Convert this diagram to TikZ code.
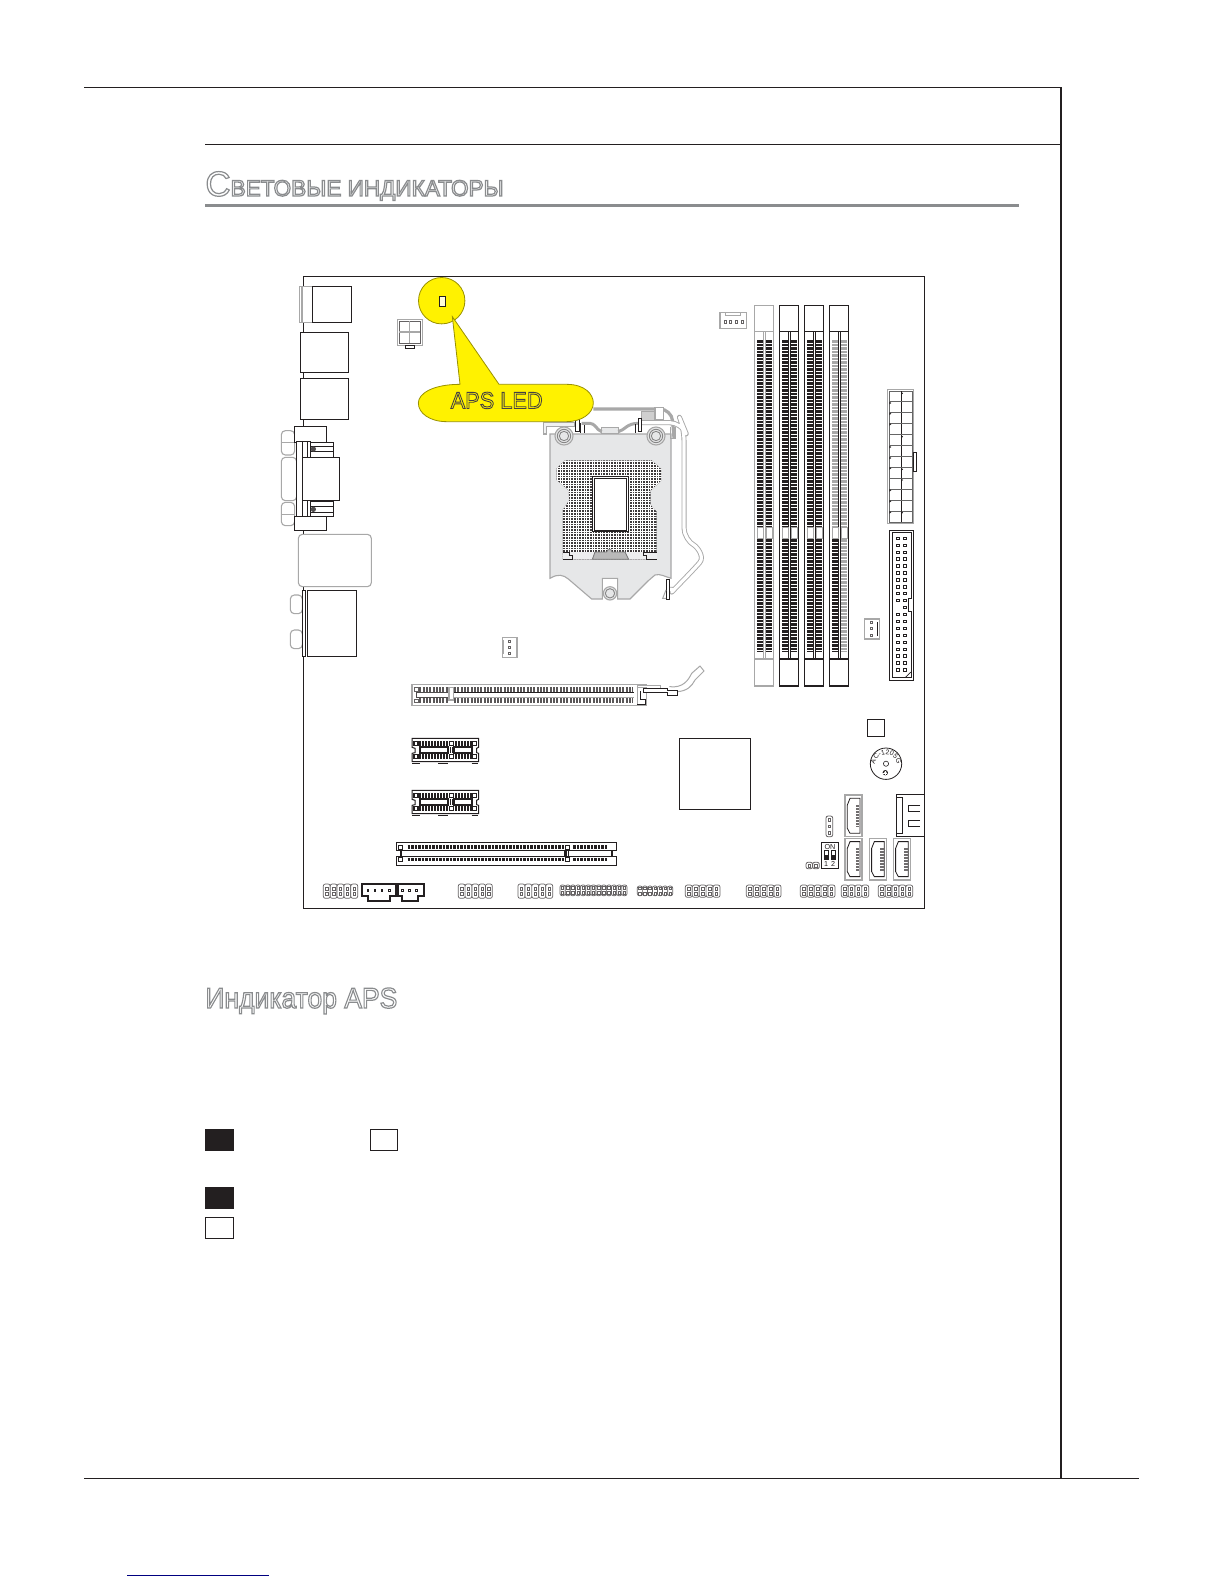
\documentclass[tikz,border=0pt]{standalone}
\usepackage{graphicx}
\usepackage{fontspec}
\setmainfont{Liberation Sans}
\usetikzlibrary{decorations.text}
\definecolor{ink}{HTML}{231F20}
\definecolor{midgray}{HTML}{8A8C8E}
\definecolor{softgray}{HTML}{A8A8A8}
\definecolor{bodygray}{HTML}{E6E7E8}
\definecolor{callout}{HTML}{FFF200}
\newcommand{\hollow}[2][0.6]{\special{pdf:literal direct 1 Tr #1 w}#2\special{pdf:literal direct 0 Tr}}
\tikzset{
  frameline/.style={draw=ink,line width=0.65pt},
  blk/.style={draw=ink,line width=0.5pt,fill=white},
  gry/.style={draw=softgray,line width=0.55pt,fill=white},
  pinrow/.style={draw=ink,line width=#1,dash pattern=on 1.25pt off 0.5pt},
  pinrow/.default=1.7pt,
  sq/.style={draw=ink,line width=0.35pt,fill=white}
}
% header block: x1,x2,y1,y2,columns
\newcommand{\pinhdr}[5]{%
  \pgfmathsetmacro\cw{(#2-#1)/#5}%
  \pgfmathsetmacro\ymid{(#3+#4)/2}%
  \foreach \ci in {1,...,#5}{%
    \pgfmathsetmacro\xa{#1+(\ci-1)*\cw}%
    \pgfmathsetmacro\xb{\xa+\cw}%
    \pgfmathsetmacro\xc{(\xa+\xb)/2}%
    \draw[draw=ink!70,line width=0.35pt,fill=white,rounded corners=1pt] (\xa,#3) rectangle (\xb,#4);
    \draw[draw=ink!70,line width=0.3pt] (\xc-1.2,\ymid-4) rectangle (\xc+1.2,\ymid-1.2);
    \draw[draw=ink!70,line width=0.3pt] (\xc-1.2,\ymid+1.2) rectangle (\xc+1.2,\ymid+4);
  }}
% SATA connector
\newcommand{\satacon}[2]{%
  \begin{scope}[shift={(#1,#2)},scale=1/3]
    \draw[gry] (0,0) rectangle (51,125);
    \draw[draw=ink,line width=0.4pt,fill=white] (15,10) -- (45,10) -- (45,115) -- (15,115) -- (7,100) -- (7,30) -- cycle;
    \draw[draw=ink!65,line width=1.7pt,dash pattern=on 0.9pt off 0.6pt] (38,30) -- (38,97);
  \end{scope}}
% memory slot: x, frame colour, left upper colour, right upper colour
\newcommand{\dimm}[4]{%
  \draw[draw=#2,line width=0.55pt,fill=white] (#1,331.7) rectangle (#1+19.4,659);
  \draw[pinrow=3.3pt,draw=#3] (#1+6.2,340) -- (#1+6.2,526.7);
  \draw[pinrow=3.3pt,draw=#4] (#1+14.8,340) -- (#1+14.8,526.7);
  \draw[pinrow=3.3pt] (#1+6.2,539) -- (#1+6.2,651.7);
  \draw[pinrow=3.3pt,draw=#4] (#1+14.8,539) -- (#1+14.8,651.7);
  \draw[draw=#2,line width=0.5pt,fill=white] (#1+9.1,331.7) rectangle (#1+11.4,659);
  \draw[gry] (#1+3,527.3) rectangle (#1+9,538.3);
  \draw[gry] (#1+12,527.3) rectangle (#1+18,538.3);
  \draw[draw=#2,line width=0.55pt,fill=white] (#1,305.3) rectangle (#1+19.4,331.7);
}
% PCIe x1 slot
\newcommand{\xoneslot}[1]{%
  \begin{scope}[shift={(280,#1)},scale=1/3]
    \draw[blk] (396,460) -- (596,460) -- (596,487) -- (590,490) -- (590,503) -- (596,505) -- (596,530) -- (396,530) -- (396,505) -- (405,503) -- (405,490) -- (396,487) -- cycle;
    \draw[ink,line width=0.4pt] (396,535) -- (420,535) (475,535) -- (505,535) (575,535) -- (595,535);
    \draw[ink,line width=0.9pt] (420,487) rectangle (503,503) (523,487) rectangle (577,503);
    \draw[sq,line width=0.6pt] (402,470) rectangle (414,482) (508,470) rectangle (520,482) (576,470) rectangle (590,482);
    \draw[sq,line width=0.6pt] (402,509) rectangle (414,521) (508,509) rectangle (520,521) (576,509) rectangle (590,521);
    \draw[pinrow=2.2pt,dash pattern=on 1.1pt off 0.4pt] (417,476) -- (505,476) (524,476) -- (574,476) (417,515) -- (505,515) (524,515) -- (574,515);
    \draw[ink,line width=0.4pt] (510,487) -- (510,505) (518,487) -- (518,505);
  \end{scope}}
\begin{document}
\begin{tikzpicture}[x=0.5pt,y=-0.5pt]
\useasboundingbox (0,0) rectangle (1224,1584);
\fill[white] (0,0) rectangle (1224,1584);
% page frame
\coordinate (tl) at (84,87.3); \coordinate (tr) at (1061,87.3);
\coordinate (sl) at (205,144.3); \coordinate (sr) at (1061,144.3);
\coordinate (bl) at (84,1478.3); \coordinate (bm) at (1061,1478.3); \coordinate (br) at (1139,1478.3);
\draw[frameline] (tl) -- (tr) -- (bm);
\draw[frameline] (sl) -- (sr);
\draw[frameline] (bl) -- (br);
\coordinate (ua) at (127,1575.3); \coordinate (ub) at (269,1575.3);
\draw[draw=blue!50!black,line width=0.6pt] (ua) -- (ub);
% heading
\node[anchor=base west,inner sep=0pt] (h1) at (205,196)
  {\color{midgray}\hollow{\fontsize{17.5}{20}\selectfont С\fontsize{11.3}{20}\selectfont ВЕТОВЫЕ ИНДИКАТОРЫ}};
\coordinate (ra) at (205,205); \coordinate (rb) at (1019,205);
\draw[draw=midgray,line width=1.5pt] (ra) -- (rb);
\node[anchor=base west,inner sep=0pt] (h2) at (205,1008)
  {\color{midgray}\scalebox{0.92}[1]{\hollow{\fontsize{14.4}{18}\selectfont Индикатор APS}}};
% legend
\draw[fill=ink,draw=ink,line width=0.4pt] (205,1129) rectangle (233,1150);
\draw[blk] (370,1129) rectangle (397.7,1150);
\draw[fill=ink,draw=ink,line width=0.4pt] (205,1187) rectangle (233,1208);
\draw[blk] (205,1217) rectangle (233,1238);
% board
\draw[blk] (303.3,276.3) rectangle (924.5,908.5);
% rear panel
\draw[gry] (299.3,286.3) rectangle (312.3,322.3);
\draw[gry] (302,286.8) -- (302,321.8);
\draw[blk] (312.3,286.3) rectangle (351.3,322.3);
\draw[blk] (300.3,332.3) rectangle (348.7,372.3);
\draw[blk] (300.3,378.3) rectangle (348.7,419.3);
\begin{scope}[shift={(280,265)},scale=1/3]
  \draw[gry,rounded corners=2pt] (4,497) rectangle (44,570);
  \draw[gry,rounded corners=2pt] (4,577) rectangle (50,707);
  \draw[gry,rounded corners=2pt] (4,712) rectangle (44,782);
  \draw[gry] (4,533) -- (44,533) (4,748) -- (44,748);
  \draw[blk] (43,484) rectangle (140,532);
  \draw[blk] (43,755) rectangle (140,797);
  \draw[blk] (49,530) rectangle (67,755);
  \draw[blk] (67,530) rectangle (90,755);
  \draw[blk] (90,532) rectangle (160,577);
  \draw[blk] (90,708) rectangle (160,755);
  \draw[ink,line width=0.4pt] (90,545) -- (160,545) (90,560) -- (160,560) (90,725) -- (160,725) (90,742) -- (160,742);
  \fill[ink!80] (100,552) circle[radius=4pt] (100,733) circle[radius=4pt];
  \draw[blk] (67,577) rectangle (178,707);
  \draw[ink,line width=0.8pt] (82,530) -- (82,577) (82,708) -- (82,755);
  \draw[gry,rounded corners=2pt] (55,808) rectangle (274,965);
\end{scope}
\begin{scope}[shift={(280,585)},scale=1/3]
  \draw[gry,rounded corners=2pt] (31,30) rectangle (67,86);
  \draw[gry,rounded corners=2pt] (31,135) rectangle (67,191);
  \draw[blk] (67,15) rectangle (77,215);
  \draw[blk] (81,15) rectangle (230,215);
\end{scope}
% CPU power connector
\begin{scope}[shift={(280,265)},scale=1/3]
  \draw[gry,line width=0.8pt] (352,163) rectangle (427,241);
  \draw[ink!70,line width=0.3pt] (358,169) rectangle (421,235);
  \draw[softgray,line width=0.6pt] (389,169) -- (389,235) (358,201) -- (421,201);
  \draw[blk] (376,241) rectangle (402,250);
\end{scope}
% top fan
\begin{scope}[shift={(600,265)},scale=1/3]
  \draw[gry] (360,142) rectangle (440,191);
  \draw[softgray,line width=0.4pt] (375,142) -- (375,152) -- (422,152) -- (422,142);
  \foreach \px in {376,392,409,427} \draw[sq,draw=ink!70] (\px-3,166) rectangle (\px+3,176);
\end{scope}
% ATX power
\begin{scope}[shift={(600,265)},scale=1/3]
  \draw[gry,line width=0.8pt] (862,373) rectangle (941,776);
  \draw[softgray!60!black,line width=0.3pt] (868,378) rectangle (936,771);
  \draw[ink,line width=0.35pt] (903,378) -- (903,771);
  \foreach \ly in {408,441,474,507,540,573,606,639,672,705,738}
    \draw[softgray!60!black,line width=0.3pt] (868,\ly) -- (936,\ly);
  \foreach \ty in {380,510,608,640,738}
    \fill[ink] (903,\ty) -- (909,\ty+5) -- (903,\ty+10) -- cycle;
  \foreach \ty in {410,442,474,542,575,606,672,705,738}
    \fill[ink] (868,\ty) -- (874,\ty+4) -- (868,\ty+8) -- cycle;
  \draw[blk] (941,562) rectangle (950,620);
\end{scope}
% memory slots
\dimm{779.3}{ink}{ink}{ink}
\dimm{804.3}{ink}{ink}{ink}
\dimm{754.3}{softgray}{ink}{ink}
\dimm{829.3}{ink}{softgray}{softgray}
% IDE connector
\draw[blk,line width=0.7pt] (889.3,530.3) rectangle (913.7,680.7);
\draw[ink,line width=0.35pt] (892,532.7) -- (911,532.7) -- (911,598) -- (908.5,598) -- (908.5,611.7) -- (911,611.7) -- (911,677.7) -- (892,677.7) -- cycle;
\draw[ink,line width=0.35pt] (911,672) -- (905,677.7);
\foreach \r in {0,...,19}{
  \pgfmathsetmacro\ry{538.3+6.93*\r}
  \draw[sq,line width=0.45pt] (903.4,\ry-1.2) rectangle (906.6,\ry+1.2);
  \ifnum\r=10\relax\else\draw[sq,line width=0.45pt] (896.7,\ry-1.2) rectangle (899.9,\ry+1.2);\fi
}
% small fans
\begin{scope}[shift={(280,585)},scale=1/3]
  \draw[gry] (667,157) rectangle (711,217);
  \draw[softgray,line width=0.4pt] (671,165) -- (671,207);
  \foreach \py in {168,187,205} \draw[sq,draw=ink!70] (686,\py-3) rectangle (692,\py+3);
\end{scope}
\begin{scope}[shift={(620,585)},scale=1/3]
  \draw[gry] (733,102) rectangle (779,162);
  \draw[ink,line width=0.4pt] (772,112) -- (772,152);
  \foreach \py in {112,130,150} \draw[sq,draw=ink!70] (752,\py-3) rectangle (758,\py+3);
\end{scope}
% socket
\begin{scope}[shift={(540,400)},scale=1/3]
  \draw[softgray,line width=0.55pt,fill=bodygray!60] (10,68) -- (10,102) -- (20,102) -- (20,80) -- (105,80) -- (105,68) -- cycle;
  \draw[softgray,line width=1.6pt,rounded corners=6pt] (160,27) -- (395,27) -- (402,115);
  \draw[softgray,line width=0.55pt,fill=bodygray] (185,82) rectangle (235,102);
  \draw[softgray,line width=1.5pt] (125,70) -- (150,70) .. controls (165,70) and (170,90) .. (185,95);
  \draw[softgray,line width=1.5pt] (235,95) .. controls (255,90) and (260,70) .. (295,70);
  \draw[softgray,line width=0.55pt,fill=bodygray] (30,102) -- (393,102) -- (393,535) .. controls (375,530) and (360,520) .. (345,525) -- (325,542) -- (270,597) -- (233,597) -- (233,535) -- (187,535) -- (187,597) -- (155,597) -- (85,537) .. controls (70,525) and (55,520) .. (30,535) -- cycle;
  \foreach \cx in {72,348}{
    \draw[softgray,line width=0.55pt,fill=bodygray] (\cx,108) circle[radius=13.5pt];
    \draw[softgray!80!black,line width=0.45pt] (\cx,108) circle[radius=10pt] (\cx,108) circle[radius=7pt];
  }
  \draw[softgray,line width=0.55pt,fill=bodygray] (210,580) circle[radius=10pt];
  \draw[softgray!80!black,line width=0.45pt] (210,580) circle[radius=7pt];
  % land grid
  \begin{scope}
    \clip (75,181) -- (335,181) -- (365,208) -- (365,240) -- (332,272) -- (332,315) -- (350,335) -- (350,478) -- (68,478) -- (68,330) -- (88,300) -- (85,270) -- (50,240) -- (50,205) -- cycle;
    \fill[ink!88] (40,175) rectangle (370,480);
    \foreach \gx in {44,52,...,372} \draw[white,line width=0.3pt] (\gx,175) -- (\gx,480);
    \foreach \gy in {177,185,...,481} \draw[white,line width=0.3pt] (40,\gy) -- (370,\gy);
  \end{scope}
  \fill[bodygray!70!white] (68,456) rectangle (350,478);
  \draw[softgray!70!black,line width=0.4pt,fill=softgray!80] (157,478) -- (165,456) -- (200,456) -- (204,449) -- (213,449) -- (216,456) -- (255,456) -- (266,478) -- cycle;
  \draw[ink,line width=0.4pt] (68,456) -- (88,456) -- (88,465) -- (98,465) -- (98,478) -- (68,478);
  \draw[ink,line width=0.4pt] (350,456) -- (310,456) -- (310,465) -- (320,465) -- (320,478) -- (350,478);
  \draw[ink,line width=0.45pt,fill=white] (157,230) rectangle (265,395);
  \draw[ink,line width=0.45pt,fill=white] (162,235) rectangle (260,390);
  % retention parts
  \draw[softgray,line width=0.55pt,fill=softgray!55] (305,35) rectangle (347,68);
  \draw[softgray,line width=0.55pt,fill=white] (345,22) rectangle (370,60);
  % lever
  \draw[softgray,line width=2.5pt,line join=round,rounded corners=6pt] (300,68) -- (425,68) -- (432,85) -- (432,420) .. controls (470,440) and (495,470) .. (455,515) -- (420,550) .. controls (405,566) and (395,568) .. (385,568);
  \draw[white,line width=1.6pt,line join=round,rounded corners=6pt] (300,68) -- (425,68) -- (432,85) -- (432,420) .. controls (470,440) and (495,470) .. (455,515) -- (420,550) .. controls (405,566) and (395,568) .. (385,568);
  \draw[blk] (105,58) rectangle (117,95);
  \draw[blk] (294,55) rectangle (304,95);
  \draw[ink,line width=0.4pt] (122,70) -- (122,100) (132,75) -- (132,100);
  \draw[ink,line width=0.4pt] (285,72) -- (285,100);
  \draw[softgray,line width=0.55pt] (392,80) -- (392,115) -- (405,115) -- (405,80);
  \draw[blk] (378,537) rectangle (388,598);
  \draw[softgray,line width=0.5pt] (378,570) -- (368,595) -- (378,595);
\end{scope}
% PCIe x16
\begin{scope}[shift={(280,585)},scale=1/3]
  \draw[gry] (396,298) rectangle (1099,362);
  \draw[draw=ink!75,line width=2.4pt,dash pattern=on 1pt off 0.65pt] (418,314) -- (505,314) (522,314) -- (1060,314);
  \draw[draw=ink!75,line width=2.4pt,dash pattern=on 1pt off 0.65pt] (418,347) -- (505,347) (522,347) -- (1060,347);
  \draw[sq,draw=ink!70] (403,308) rectangle (416,320) (403,342) rectangle (416,353);
  \draw[ink!80,line width=0.45pt,fill=white] (410,323) rectangle (505,338);
  \draw[draw=white,fill=white] (520,323) rectangle (1062,338);
  \draw[ink,line width=0.7pt] (520,323) -- (1062,323);
  \draw[softgray,line width=0.4pt] (520,338) -- (1062,338);
  \draw[gry] (507,308) rectangle (520,345);
\end{scope}
\begin{scope}[shift={(620,585)},scale=1/3]
  \draw[softgray,line width=0.5pt,fill=white] (148,305) .. controls (190,310) and (205,285) .. (215,265) -- (240,243) -- (252,258) -- (225,285) .. controls (215,305) and (200,318) .. (172,320);
  \draw[softgray,line width=0.5pt,fill=white] (52,300) rectangle (122,310);
  \draw[softgray,line width=0.5pt,fill=white] (52,308) rectangle (80,362);
  \draw[blk] (70,310) -- (142,310) -- (142,315) -- (172,315) -- (172,331) -- (142,331) -- (142,322) -- (70,322) -- cycle;
  \draw[ink,line width=0.4pt] (60,318) -- (60,342) -- (75,342) -- (75,358) -- (52,358);
\end{scope}
% PCIe x1 slots
\xoneslot{585}
\xoneslot{637}
% PCI
\begin{scope}[shift={(280,585)},scale=1/3]
  \draw[blk] (349,772) rectangle (1010,797);
  \draw[blk] (349,815) rectangle (1010,842);
  \draw[ink,line width=0.4pt] (360,797) rectangle (860,815) (865,797) rectangle (998,815);
  \draw[ink,line width=1pt] (362,797) -- (362,815) (856,797) -- (856,815) (995,797) -- (995,815);
  \draw[pinrow=1.7pt] (383,786) -- (853,786) (880,786) -- (985,786) (383,824) -- (853,824) (880,824) -- (985,824);
  \draw[sq,line width=0.5pt] (356,780) rectangle (368,792) (856,780) rectangle (868,792) (356,818) rectangle (368,830) (856,818) rectangle (868,830);
\end{scope}
% chipset, chip, buzzer
\draw[blk] (679.3,738.3) rectangle (750.7,809.7);
\draw[blk] (867.3,719.3) rectangle (884.7,736.7);
\draw[draw=ink,line width=0.4pt,fill=white] (886,763.7) circle[radius=7.85pt];
\draw[draw=ink,line width=0.3pt] (886,763.7) circle[radius=1.3pt];
\draw[draw=ink,line width=0.6pt] (885.3,772.7) circle[radius=1pt];
\draw[white,line width=0.2pt] (883.3,772.7) -- (887.3,772.7) (885.3,770.7) -- (885.3,774.7);
\path[decorate,decoration={text along path,text align=center,text={|\fontsize{3.4}{4}\selectfont\color{ink}|AC-1205G}}]
  (874.5,771) .. controls (872,749) and (900,749) .. (897.5,771);
% SATA + power
\satacon{845}{795}
\satacon{845}{838.3}
\satacon{869.3}{838.3}
\satacon{893.3}{838.3}
\draw[blk] (896,794) rectangle (924.5,836.7);
\draw[ink,line width=0.45pt] (902.7,797.3) -- (902.7,833.3) (896,797.3) -- (902.7,797.3) (896,833.3) -- (902.7,833.3);
\draw[ink,line width=0.4pt] (920,805) -- (908.3,805) -- (908.3,811) -- (920,811) (920,820) -- (908.3,820) -- (908.3,826) -- (920,826);
% jumpers and switch
\draw[draw=ink!70,line width=0.4pt,fill=white,rounded corners=1pt] (826,816) rectangle (832.7,836.7);
\foreach \jy in {820,826.3,833} \draw[draw=ink!70,line width=0.3pt] (828,\jy-1.3) rectangle (830.7,\jy+1.3);
\draw[draw=ink!70,line width=0.4pt,fill=white,rounded corners=1pt] (806,862.3) rectangle (812.6,868.7);
\draw[draw=ink!70,line width=0.4pt,fill=white,rounded corners=1pt] (812.6,862.3) rectangle (819.3,868.7);
\draw[draw=ink!70,line width=0.3pt] (808,864.2) rectangle (810.6,866.8) (814.6,864.2) rectangle (817.3,866.8);
\draw[blk,line width=0.6pt] (821.3,842.3) rectangle (838.7,868.7);
\node[inner sep=0pt,font=\fontsize{3.6}{4}\selectfont,text=ink] (sw) at (830,847) {ON};
\node[inner sep=0pt,font=\fontsize{3.6}{4}\selectfont,text=ink] (s1) at (826,864) {1};
\node[inner sep=0pt,font=\fontsize{3.6}{4}\selectfont,text=ink] (s2) at (833,864) {2};
\draw[ink,line width=0.4pt] (824.3,850.7) rectangle (828.3,859.3) (831,850.7) rectangle (835,859.3);
\fill[ink] (824.3,855) rectangle (828.3,859.3) (831,855) rectangle (835,859.3);
% bottom headers
\pinhdr{323.3}{357.7}{884}{898.3}{5}
\pinhdr{458.3}{492.3}{884}{898.3}{5}
\pinhdr{518}{552.7}{884}{898.3}{5}
\pinhdr{560}{627}{885}{895.7}{13}
\pinhdr{637.3}{672.7}{886}{895.7}{7}
\pinhdr{685.3}{720}{885}{897.3}{5}
\pinhdr{746.3}{781}{885}{897.3}{5}
\pinhdr{800.3}{835}{885}{897.3}{5}
\pinhdr{841.3}{868.7}{885}{897.3}{4}
\pinhdr{878.3}{912.7}{885}{897.3}{5}
% bottom fans
\begin{scope}[shift={(280,585)},scale=1/3]
  \draw[blk,line width=0.85pt] (247,898) -- (347,898) -- (347,933) -- (330,933) -- (330,948) -- (265,948) -- (265,933) -- (247,933) -- cycle;
  \draw[blk,line width=0.85pt] (353,898) -- (431,898) -- (431,933) -- (415,933) -- (415,948) -- (365,948) -- (365,933) -- (353,933) -- cycle;
  \foreach \px in {264,285,306,329,367,388,409} \draw[sq] (\px-2.5,913) rectangle (\px+2.5,919);
\end{scope}
% callout
\draw[draw=callout!60!black,line width=0.4pt,fill=callout] (441.7,300.7) circle[radius=11.6pt];
\draw[blk,fill=callout!15!white] (439.7,296.7) rectangle (445,306.7);
\begin{scope}[shift={(280,265)},scale=1/3]
  \draw[draw=callout!60!black,line width=0.4pt,fill=callout] (517,155) -- (657,358) -- (860,358) .. controls (915,358) and (940,388) .. (940,414) .. controls (940,445) and (905,470) .. (860,470) -- (500,470) .. controls (450,470) and (415,445) .. (415,414) .. controls (415,385) and (460,358) .. (540,358) -- cycle;
\end{scope}
\node[inner sep=0pt,anchor=base] (aps) at (496.7,408.5)
  {\color{ink!85}\scalebox{0.93}[1]{\hollow[0.45]{\fontsize{11.7}{14}\selectfont APS LED}}};
% lower heads of the memory slots
\draw[draw=softgray,line width=0.55pt,fill=white] (754.3,659) rectangle (773.7,686);
\draw[draw=ink,line width=0.55pt,fill=white] (779.3,659) rectangle (798.7,686);
\draw[draw=ink,line width=0.55pt,fill=white] (804.3,659) rectangle (823.7,686);
\draw[draw=ink,line width=0.55pt,fill=white] (829.3,659) rectangle (848.7,686);
\end{tikzpicture}
\end{document}
